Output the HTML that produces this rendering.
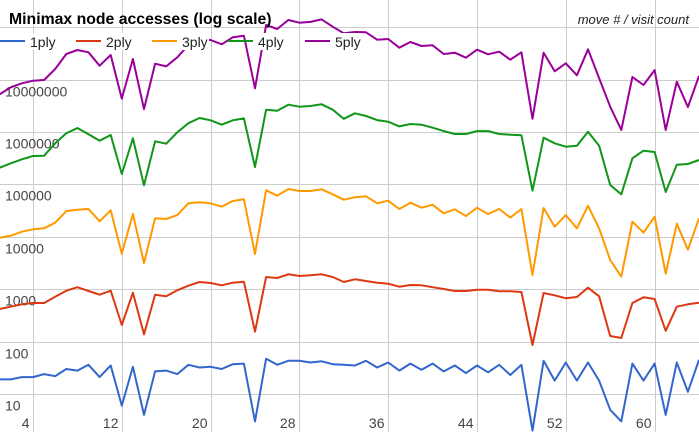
<!DOCTYPE html>
<html><head><meta charset="utf-8">
<style>
html,body{margin:0;padding:0;background:#fff;}
svg{display:block;font-family:"Liberation Sans",sans-serif;}
</style></head>
<body>
<svg id="chart" width="699" height="432" viewBox="0 0 699 432" xmlns="http://www.w3.org/2000/svg">
<g id="grid"></g>
<g id="ylabels"></g>
<g id="xlabels"></g>
<g id="series"></g>
<g id="legend"></g>
<text x="9" y="24" font-size="15.8" font-weight="bold" fill="#000">Minimax node accesses (log scale)</text>
<text x="689" y="24" font-size="13" font-style="italic" fill="#222" text-anchor="end">move # / visit count</text>
</svg>
<script>
const moves = Array.from({length:64},(_,i)=>i+1);
const xTicks = [4,12,20,28,36,44,52,60];
const yTicks = [10,100,1000,10000,100000,1000000,10000000,100000000];
const yTickLabels = ["10","100","1000","10000","100000","1000000","10000000",""];
const seriesNames = ["1ply","2ply","3ply","4ply","5ply"];
const seriesColors = ["#3366cc","#dc3912","#ff9900","#109618","#990099"];
const ply1 = [19,19,21,21,24,22,30,28,36,21,35,6,33,4,27,28,24,36,32,33,30,37,38,3,47,36,43,43,40,42,37,36,35,43,32,40,28,38,29,38,27,35,25,35,26,36,23,36,2,43,18,40,18,40,18,5,3,38,18,38,4,40,11,45];
const ply2 = [420,463,515,546,546,719,936,1090,924,785,936,207,857,138,785,733,953,1167,1371,1312,1187,1330,1390,155,1710,1637,1925,1786,1841,1925,1710,1371,1545,1432,1330,1274,1116,1203,1187,1090,1009,924,924,977,977,912,912,885,86,846,765,670,710,1069,733,128,117,546,700,650,161,463,515,552];
const ply3 = [9600,10500,12500,13900,14500,18600,31000,32900,34000,19800,32000,4760,27200,3160,22500,21900,26000,43500,45500,43500,37500,48200,52000,4700,77100,60800,81600,74800,74800,80500,64700,51100,56800,59300,43500,48900,34000,44700,35900,41000,28100,33500,24900,35900,27200,34000,23200,34000,1870,35500,15600,26000,14500,39300,14500,3600,1730,19400,12000,24200,1980,17800,5680,22500];
const ply4 = [208000,253000,301000,348000,353000,608000,944000,1190000,904000,683000,877000,158000,759000,96100,665000,598000,986000,1470000,1850000,1670000,1380000,1670000,1820000,215000,2670000,2550000,3320000,3040000,3130000,3380000,2670000,1790000,2270000,2020000,1690000,1570000,1280000,1420000,1380000,1210000,1040000,916000,916000,1040000,1040000,916000,888000,864000,75900,778000,608000,525000,548000,1010000,548000,97500,64700,315000,440000,415000,71600,238000,245000,292000];
const ply5 = [5250000,7130000,8500000,9530000,9820000,15900000,30800000,36700000,33200000,18400000,29500000,4330000,24700000,2750000,20100000,17900000,26700000,45700000,58700000,57000000,47200000,64100000,68900000,6820000,110000000,92400000,137000000,122000000,126000000,141000000,102000000,76600000,81000000,80000000,57700000,59600000,40600000,52200000,43700000,45100000,30800000,32600000,26200000,37200000,30400000,34100000,24000000,33200000,1790000,32600000,14400000,20500000,12100000,37900000,10700000,3040000,1090000,11200000,7890000,15200000,1090000,9120000,3000000,11700000];
const seriesData = [ply1,ply2,ply3,ply4,ply5];

const NS="http://www.w3.org/2000/svg";
function xScale(m){return 33 + (m-4)*11.1;}
function yScale(v){return 394 - (Math.log10(v)-1)*52.4;}
function mk(tag,attrs,parent){const e=document.createElementNS(NS,tag);for(const k in attrs)e.setAttribute(k,attrs[k]);parent.appendChild(e);return e;}

const grid=document.getElementById('grid');
const yl=document.getElementById('ylabels');
const xl=document.getElementById('xlabels');
yTicks.forEach((t,i)=>{
  const y=Math.round(yScale(t))+0.5;
  const g=mk('line',{x1:0,x2:699,y1:y,y2:y,stroke:'#cccccc','stroke-width':1},grid);
  
  
  if(yTickLabels[i]){
    const tx=mk('text',{x:5,y:y+16,'font-size':14,fill:'#444'},yl);
    tx.textContent=yTickLabels[i];
    
    
  }
});
xTicks.forEach(t=>{
  const x=Math.round(xScale(t))+0.5;
  const g=mk('line',{x1:x,x2:x,y1:0,y2:432,stroke:'#cccccc','stroke-width':1},grid);
  
  
  const tx=mk('text',{x:x-4,y:428,'font-size':14,fill:'#444','text-anchor':'end'},xl);
  tx.textContent=String(t);
  
  
});
const sg=document.getElementById('series');
seriesData.forEach((arr,si)=>{
  const pts=arr.map((v,i)=>xScale(moves[i]).toFixed(1)+','+yScale(v).toFixed(1)).join(' ');
  const p=mk('polyline',{points:pts,fill:'none',stroke:seriesColors[si],'stroke-width':2,'stroke-linejoin':'round'},sg);
  
  
});
const lg=document.getElementById('legend');
const legX=[0,76,152,228,305];
seriesNames.forEach((n,i)=>{
  const g=mk('g',{},lg);
  
  
  mk('rect',{x:legX[i]+29,y:33,width:28,height:17,fill:'#fff'},g);
  mk('line',{x1:legX[i],x2:legX[i]+25,y1:41,y2:41,stroke:seriesColors[i],'stroke-width':2},g);
  const t=mk('text',{x:legX[i]+30,y:47,'font-size':14,fill:'#222'},g);
  t.textContent=n;
});
</script>
</body></html>
